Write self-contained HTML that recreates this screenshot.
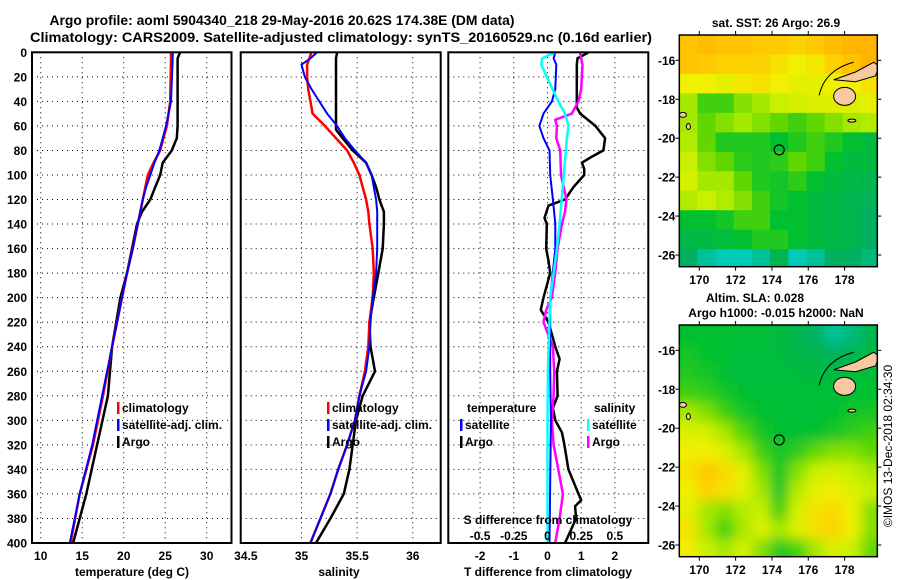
<!DOCTYPE html>
<html><head><meta charset="utf-8"><style>
html,body{margin:0;padding:0;background:#fff;}
svg{display:block;font-family:"Liberation Sans",Arial,sans-serif;}
.tk{font-size:12px;font-weight:bold;}
</style></head><body>
<svg id="chart" width="900" height="580" viewBox="0 0 900 580" xmlns="http://www.w3.org/2000/svg">
<text x="282" y="25" text-anchor="middle" font-size="13.5" font-weight="bold" textLength="465" lengthAdjust="spacingAndGlyphs">Argo profile: aoml 5904340_218 29-May-2016 20.62S 174.38E (DM data)</text>
<text x="341" y="42" text-anchor="middle" font-size="13.5" font-weight="bold" textLength="622" lengthAdjust="spacingAndGlyphs">Climatology: CARS2009. Satellite-adjusted climatology: synTS_20160529.nc (0.16d earlier)</text>
<g id="g1"></g>
<g id="g2"></g>
<g id="g3"></g>
<g id="m1"></g>
<g id="m2"></g>
<text x="776" y="27" text-anchor="middle" class="tk">sat. SST: 26 Argo: 26.9</text>
<text x="755" y="302" text-anchor="middle" class="tk">Altim. SLA: 0.028</text>
<text x="776" y="317" text-anchor="middle" class="tk">Argo h1000: -0.015 h2000: NaN</text>
<text transform="translate(892,446) rotate(-90)" text-anchor="middle" font-size="12">©IMOS 13-Dec-2018 02:34:30</text>
</svg>
<script>
// ---- data ----
const depthT=[0,5,40,60,70,80,90,100,110,120,130,140,160,180,200,240,280,320,360,400];
const tempClim=[25.7,25.7,25.6,25.2,24.8,24.4,23.6,22.9,22.6,22.3,22.0,21.7,21.1,20.4,19.8,18.6,17.5,16.3,14.7,13.6];
const tempSat=[25.9,25.9,25.7,25.1,24.7,24.3,23.7,23.2,22.7,22.3,22.0,21.7,21.1,20.4,19.8,18.6,17.4,16.2,14.7,13.5];
const tempArgo=[26.8,26.5,26.5,26.5,26.4,25.8,24.7,24.4,23.8,23.2,22.2,21.6,21.0,20.4,19.6,18.6,18.1,16.8,15.5,13.9];
const depthS=[0,5,10,20,30,40,50,60,63,70,80,90,100,110,120,130,140,160,180,200,220,240,260,280,300,320,340,360,380,400];
const salClim=[35.09,35.07,35.05,35.05,35.06,35.08,35.10,35.21,35.24,35.31,35.41,35.47,35.52,35.55,35.58,35.60,35.61,35.64,35.65,35.64,35.61,35.60,35.57,35.52,35.48,35.41,35.33,35.26,35.17,35.08];
const salSat=[35.14,35.08,35.0,35.03,35.09,35.16,35.23,35.32,35.34,35.39,35.48,35.58,35.63,35.65,35.67,35.68,35.68,35.68,35.67,35.64,35.62,35.61,35.58,35.52,35.48,35.41,35.33,35.26,35.17,35.08];
const salArgo=[35.32,35.31,35.31,35.31,35.31,35.31,35.31,35.31,35.31,35.37,35.46,35.58,35.63,35.67,35.70,35.74,35.74,35.73,35.69,35.65,35.61,35.62,35.66,35.55,35.49,35.46,35.43,35.38,35.26,35.13];
const tdSatDepth=[0,5,10,30,40,50,60,70,80,100,120,140,160,200,260,300,400];
const tdSat=[0.23,0.18,0.26,0.23,0.13,-0.12,-0.24,-0.12,0.06,0.08,0.16,0.23,0.23,0.08,0.08,0.1,0.06];
const tdArgoDepth=[0,5,10,45,50,60,70,80,85,90,95,100,110,120,125,135,140,160,170,180,200,210,220,240,250,260,280,290,300,310,320,340,360,365,370,380,400];
const tdArgo=[1.22,0.89,0.87,0.87,0.97,1.42,1.71,1.66,1.32,1.02,1.09,1.09,0.77,0.52,0.03,-0.09,-0.02,-0.04,0.03,0.08,-0.12,-0.2,0.03,0.23,0.36,0.28,0.3,0.16,0.23,0.43,0.5,0.62,0.92,1.0,0.82,0.85,0.52];
const sdSatDepth=[0,5,10,20,40,50,60,70,100,140,160,180,200,260,300,400];
const sdSat=[0.057,-0.04,-0.047,-0.005,0.08,0.13,0.156,0.144,0.12,0.09,0.07,0.045,0.02,0.003,0,0];
const sdArgoDepth=[0,10,30,40,50,55,60,70,75,80,100,110,120,130,140,160,180,200,210,220,240,260,280,300,320,340,360,380,400];
const sdArgo=[0.24,0.26,0.25,0.23,0.18,0.057,0.07,0.065,0.08,0.094,0.10,0.12,0.14,0.13,0.107,0.075,0.057,0.033,-0.01,-0.03,0.04,0.05,0.045,0.033,0.045,0.08,0.114,0.09,0.057];
const depthTicks=[0,20,40,60,80,100,120,140,160,180,200,220,240,260,280,300,320,340,360,380,400];
const tempTicks=[10,15,20,25,30];
const salTicks=[34.5,35,35.5,36];
const tdTicks=[-2,-1,0,1,2];
const sdTickLabels=["-0.5","-0.25","0","0.25","0.5"];
const sdTicks=[-0.5,-0.25,0,0.25,0.5];
const lonTicks=[170,172,174,176,178];
const latTicks=[-16,-18,-20,-22,-24,-26];
const argoLon=174.4, argoLat=-20.6;
const sstGrid=[
[0.9,0.92,0.9,0.9,0.88,0.88,0.85,0.88,0.92,0.95,0.95],
[0.9,0.88,0.85,0.85,0.85,0.8,0.75,0.78,0.85,0.9,0.95],
[0.75,0.75,0.72,0.78,0.8,0.75,0.72,0.72,0.75,0.75,0.8],
[0.6,0.45,0.45,0.55,0.6,0.65,0.68,0.7,0.7,0.7,0.72],
[0.6,0.5,0.55,0.6,0.55,0.5,0.45,0.5,0.55,0.6,0.62],
[0.62,0.5,0.4,0.4,0.4,0.35,0.4,0.45,0.4,0.35,0.3],
[0.65,0.55,0.5,0.42,0.4,0.42,0.5,0.45,0.35,0.3,0.3],
[0.68,0.6,0.6,0.5,0.4,0.38,0.42,0.35,0.3,0.28,0.25],
[0.62,0.65,0.62,0.55,0.45,0.38,0.35,0.3,0.28,0.25,0.22],
[0.35,0.35,0.38,0.45,0.45,0.35,0.35,0.3,0.28,0.25,0.2],
[0.28,0.3,0.32,0.35,0.4,0.4,0.35,0.3,0.28,0.25,0.2],
[0.2,0.1,0.05,0.05,0.1,0.25,0.05,0.1,0.2,0.2,0.15]];
const slaGrid=[
[0.35,0.35,0.35,0.33,0.33,0.3,0.25,0.2,0.1,0.15,0.25],
[0.38,0.36,0.34,0.32,0.32,0.3,0.28,0.25,0.22,0.25,0.3],
[0.4,0.38,0.35,0.3,0.32,0.32,0.3,0.3,0.3,0.32,0.33],
[0.45,0.42,0.38,0.35,0.33,0.33,0.33,0.33,0.33,0.35,0.35],
[0.6,0.55,0.45,0.38,0.35,0.33,0.33,0.33,0.35,0.38,0.38],
[0.7,0.68,0.6,0.48,0.38,0.35,0.35,0.35,0.38,0.42,0.45],
[0.75,0.75,0.7,0.6,0.45,0.38,0.42,0.5,0.55,0.55,0.5],
[0.8,0.88,0.82,0.72,0.55,0.38,0.55,0.65,0.68,0.65,0.6],
[0.75,0.85,0.8,0.72,0.6,0.38,0.62,0.72,0.75,0.7,0.65],
[0.72,0.6,0.55,0.62,0.65,0.45,0.68,0.8,0.82,0.75,0.55],
[0.8,0.6,0.45,0.6,0.7,0.6,0.7,0.8,0.85,0.75,0.55],
[0.75,0.65,0.6,0.68,0.55,0.4,0.45,0.6,0.7,0.65,0.5]];

// ---- helpers ----
const NS="http://www.w3.org/2000/svg";
function mk(parent,tag,attrs,text){const e=document.createElementNS(NS,tag);for(const k in attrs)e.setAttribute(k,attrs[k]);if(text!==undefined)e.textContent=text;parent.appendChild(e);return e;}
const TOP=52.3,BOT=543;
function yD(d){return TOP+d*(BOT-TOP)/400;}
function lin(d0,d1,r0,r1){return v=>r0+(v-d0)*(r1-r0)/(d1-d0);}
function panel(g,x0,x1,xs,xTicks,xLabels,gridX,showDepth){
  const grid=mk(g,'g',{});
  
  
  depthTicks.forEach(d=>{if(d>0&&d<400)mk(grid,'line',{x1:x0,x2:x1,y1:yD(d),y2:yD(d),stroke:'#000','stroke-width':1,'stroke-dasharray':'1 4'});});
  gridX.forEach(v=>{mk(grid,'line',{x1:xs(v),x2:xs(v),y1:TOP,y2:BOT,stroke:'#000','stroke-width':1,'stroke-dasharray':'1 4'});});
  if(showDepth){depthTicks.forEach(d=>{const t=mk(g,'text',{x:x0-5,y:yD(d)+4.5,'text-anchor':'end',class:'tk'},String(d));});}
  xTicks.forEach((v,i)=>{const t=mk(g,'text',{x:xs(v),y:BOT+17,'text-anchor':'middle',class:'tk'},xLabels[i]);});
}
function frame(g,x0,x1){const r=mk(g,'rect',{x:x0,y:TOP,width:x1-x0,height:BOT-TOP,fill:'none',stroke:'#000','stroke-width':2});}
function series(g,xs,vals,depths,color,w,name){
  const pts=vals.map((v,i)=>xs(v).toFixed(1)+','+yD(depths[i]).toFixed(1)).join(' ');
  const p=mk(g,'polyline',{points:pts,fill:'none',stroke:color,'stroke-width':w,'stroke-linejoin':'round'});
  
  
}
function legend(g,x,y,color,label,name){
  const e=mk(g,'g',{});
  
  
  if(color)mk(e,'rect',{x:x,y:y-10,width:2.5,height:12,fill:color});
  mk(e,'text',{x:x+5,y:y,class:'tk'},label);
}

// ---- panel 1 ----
const g1=document.getElementById('g1');
const xT=lin(10,30,40.7,206.7);
panel(g1,32,231.5,xT,tempTicks,tempTicks.map(String),tempTicks,true);
series(g1,xT,tempArgo,depthT,'#000',2.5,'temp-argo-line');
series(g1,xT,tempClim,depthT,'#f00',2.5,'temp-climatology-line');
series(g1,xT,tempSat,depthT,'#00f',2,'temp-satellite-line');
legend(g1,117,412,'#f00','climatology','legend-climatology');
legend(g1,117,429,'#00f','satellite-adj. clim.','legend-satellite');
legend(g1,117,446,'#000','Argo','legend-argo');
frame(g1,32,231.5);
mk(g1,'text',{x:132,y:576,'text-anchor':'middle',class:'tk'},'temperature (deg C)');

// ---- panel 2 ----
const g2=document.getElementById('g2');
const xS=lin(35,36,301.5,412.8);
panel(g2,240.7,440.7,xS,salTicks,salTicks.map(String),[35,35.5,36],false);
series(g2,xS,salArgo,depthS,'#000',2.5,'sal-argo-line');
series(g2,xS,salClim,depthS,'#f00',2.5,'sal-climatology-line');
series(g2,xS,salSat,depthS,'#00f',2,'sal-satellite-line');
legend(g2,327,412,'#f00','climatology','legend-climatology');
legend(g2,327,429,'#00f','satellite-adj. clim.','legend-satellite');
legend(g2,327,446,'#000','Argo','legend-argo');
frame(g2,240.7,440.7);
mk(g2,'text',{x:339,y:576,'text-anchor':'middle',class:'tk'},'salinity');

// ---- panel 3 ----
const g3=document.getElementById('g3');
const xD=lin(0,1,547.5,581.2);
const xSD=v=>xD(v*4);
panel(g3,448.3,648.3,xD,tdTicks,tdTicks.map(String),tdTicks,false);
series(g3,xD,tdArgo,tdArgoDepth,'#000',2.5,'tdiff-argo-line');
series(g3,xSD,sdArgo,sdArgoDepth,'#f0f',2.5,'sdiff-argo-line');
series(g3,xD,tdSat,tdSatDepth,'#00f',2,'tdiff-satellite-line');
series(g3,xSD,sdSat,sdSatDepth,'#0ff',2.5,'sdiff-satellite-line');
mk(g3,'text',{x:467,y:412,class:'tk'},'temperature');
legend(g3,460,429,'#00f','satellite','legend-t-satellite');
legend(g3,460,446,'#000','Argo','legend-t-argo');
mk(g3,'text',{x:594,y:412,class:'tk'},'salinity');
legend(g3,587,429,'#0ff','satellite','legend-s-satellite');
legend(g3,587,446,'#f0f','Argo','legend-s-argo');
mk(g3,'text',{x:548,y:524,'text-anchor':'middle',class:'tk'},'S difference from climatology');
sdTicks.forEach((v,i)=>{const t=mk(g3,'text',{x:xSD(v),y:540,'text-anchor':'middle',class:'tk'},sdTickLabels[i]);});
frame(g3,448.3,648.3);
mk(g3,'text',{x:548,y:576,'text-anchor':'middle',class:'tk'},'T difference from climatology');

// ---- maps ----
const stops=[[0,[0,212,212]],[0.2,[0,176,96]],[0.35,[0,192,48]],[0.5,[96,216,0]],[0.65,[200,240,0]],[0.75,[240,240,0]],[0.88,[255,200,0]],[1,[255,168,0]]];
function cmap(v){for(let i=1;i<stops.length;i++){if(v<=stops[i][0]){const a=stops[i-1],b=stops[i];const t=(v-a[0])/(b[0]-a[0]);const c=a[1].map((x,k)=>Math.round(x+(b[1][k]-x)*t));return 'rgb('+c.join(',')+')';}}return 'rgb(255,168,0)';}
function drawMap(id,grid,top,bot,blur,lonY){
  const g=document.getElementById(id);
  const L=679.3,R=877.3;
  const xL=lin(168.9,179.8,L,R), yL=lin(-14.7,-26.6,top,bot);
  const cid='clip'+id;
  const defs=mk(g,'defs',{});
  const cp=mk(defs,'clipPath',{id:cid});mk(cp,'rect',{x:L,y:top,width:R-L,height:bot-top});
  if(blur){const f=mk(defs,'filter',{id:'bl'+id,x:'-5%',y:'-5%',width:'110%',height:'110%'});mk(f,'feGaussianBlur',{stdDeviation:6});}
  const cells=mk(g,'g',{'clip-path':'url(#'+cid+')'});
  const inner=mk(cells,'g',blur?{filter:'url(#bl'+id+')'}:{});
  
  
  mk(inner,'rect',{x:L-20,y:top-20,width:R-L+40,height:bot-top+40,fill:cmap(grid[5][5])});
  grid.forEach((row,r)=>row.forEach((v,c)=>{
    const lat0=-14.7-r, lon0=168.9+c;
    const x=xL(lon0), y=yL(lat0), w=xL(lon0+1)-x+0.5, h=yL(lat0-1)-y+0.5;
    const cell=mk(inner,'rect',{x:x-(c==0&&blur?20:0),y:y-(r==0&&blur?20:0),width:w+(c==0&&blur?20:0)+(c==row.length-1&&blur?20:0),height:h+(r==0&&blur?20:0)+(r==grid.length-1&&blur?20:0),fill:cmap(v)});
    
    
  }));
  // islands
  const land=mk(cells,'g',{fill:'#f8c8a0',stroke:'#000','stroke-width':1});
  
  
  mk(land,'ellipse',{cx:xL(178.0),cy:yL(-17.85),rx:11,ry:9});
  mk(land,'path',{d:`M${xL(177.4)} ${yL(-17.0)} L${xL(178.6)} ${yL(-16.6)} L${xL(179.6)} ${yL(-16.1)} L${xL(179.9)} ${yL(-16.3)} L${xL(179.7)} ${yL(-16.8)} L${xL(178.6)} ${yL(-17.1)} Z`});
  mk(land,'path',{d:`M${xL(176.6)} ${yL(-17.8)} Q${xL(176.9)} ${yL(-16.5)} ${xL(178.5)} ${yL(-16.1)}`,fill:'none'});
  mk(land,'ellipse',{cx:xL(169.1),cy:yL(-18.8),rx:3.5,ry:2.5});
  mk(land,'ellipse',{cx:xL(169.4),cy:yL(-19.4),rx:2,ry:3});
  mk(land,'ellipse',{cx:xL(178.4),cy:yL(-19.1),rx:4,ry:1.5});
  mk(g,'rect',{x:L,y:top,width:R-L,height:bot-top,fill:'none',stroke:'#000','stroke-width':1.5});
  const mark=mk(g,'circle',{cx:xL(argoLon),cy:yL(argoLat),r:5,fill:'none',stroke:'#000','stroke-width':1.2});
  
  
  lonTicks.forEach(v=>{
    mk(g,'line',{x1:xL(v),x2:xL(v),y1:top-4,y2:top,stroke:'#000'});
    mk(g,'line',{x1:xL(v),x2:xL(v),y1:bot,y2:bot+4,stroke:'#000'});
    const t=mk(g,'text',{x:xL(v),y:lonY,'text-anchor':'middle',class:'tk'},String(v));
    
    
  });
  latTicks.forEach(v=>{
    mk(g,'line',{x1:L-4,x2:L,y1:yL(v),y2:yL(v),stroke:'#000'});
    mk(g,'line',{x1:R,x2:R+4,y1:yL(v),y2:yL(v),stroke:'#000'});
    const t=mk(g,'text',{x:L-4,y:yL(v)+4.5,'text-anchor':'end',class:'tk'},String(v));
    
    
  });
}
drawMap('m1',sstGrid,35,266.7,false,284);
drawMap('m2',slaGrid,325,556.7,true,574);
</script>
</body></html>
